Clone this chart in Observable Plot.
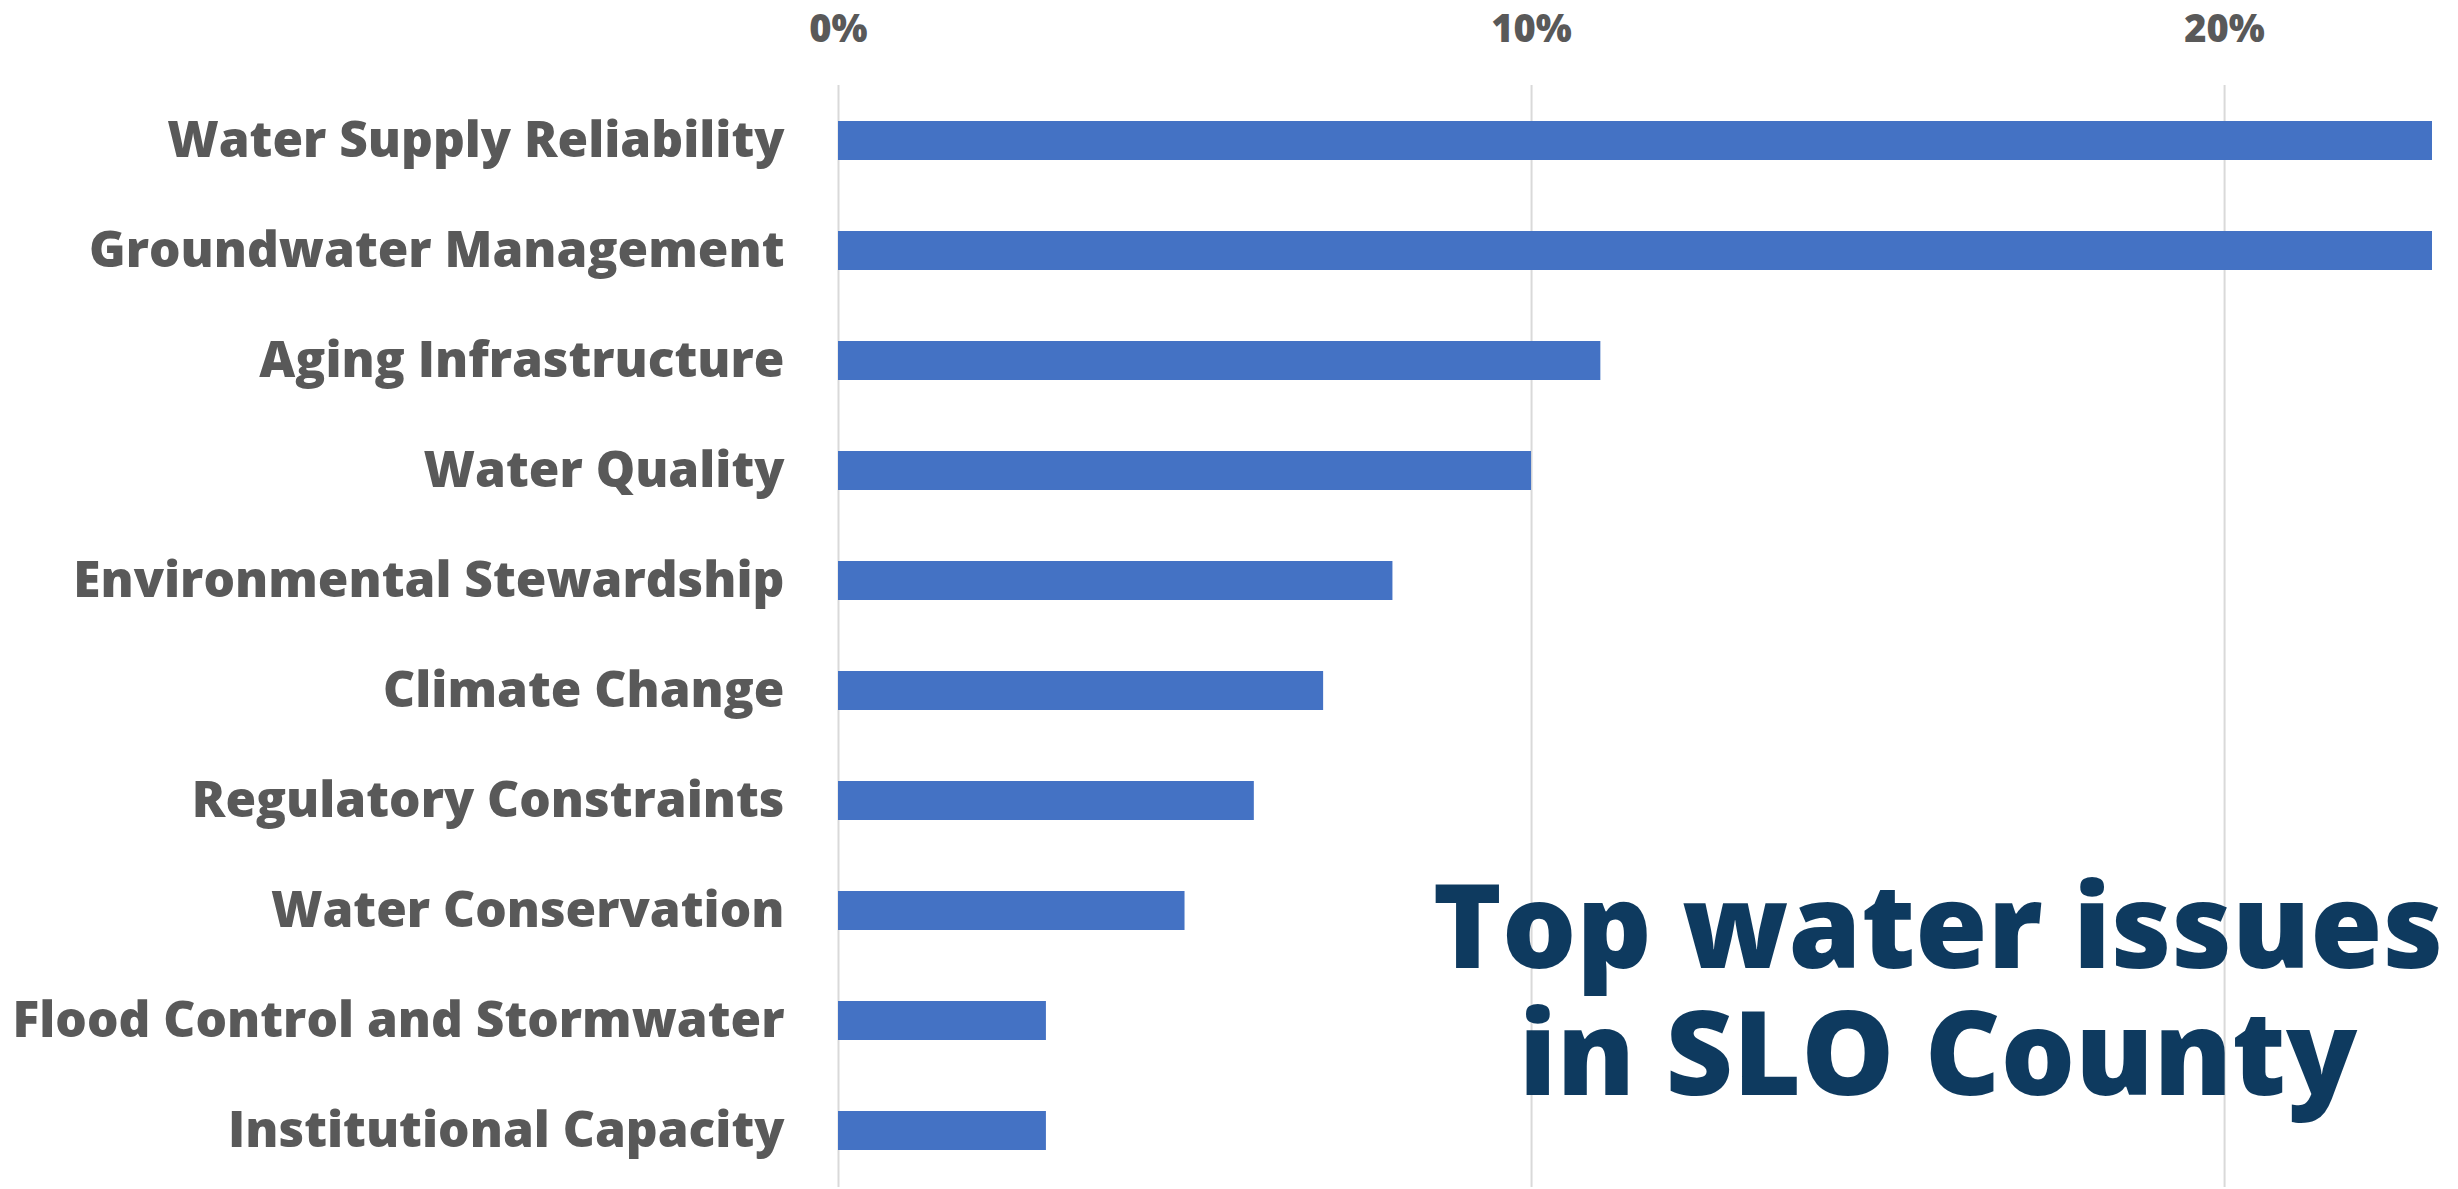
<!DOCTYPE html>
<html>
<head>
<meta charset="utf-8">
<script src="https://cdn.jsdelivr.net/npm/d3@7"></script>
<script src="https://cdn.jsdelivr.net/npm/@observablehq/plot@0.6"></script>
<style>
  html, body { margin: 0; padding: 0; background: #fff; }
  #wrap { position: relative; width: 2458px; height: 1189px; overflow: hidden; }
  #title {
    position: absolute; left: 1388px; top: 859px; width: 1100px;
    text-align: center; font-family: "Open Sans", sans-serif; font-weight: 800;
    font-size: 117px; line-height: 127px; color: #0e3a5f;
  }
</style>
</head>
<body>
<div id="wrap">
  <div id="chart"></div>
  <div id="title">Top water issues<br>in SLO County</div>
</div>
<script>
const categories = [
  "Water Supply Reliability",
  "Groundwater Management",
  "Aging Infrastructure",
  "Water Quality",
  "Environmental Stewardship",
  "Climate Change",
  "Regulatory Constraints",
  "Water Conservation",
  "Flood Control and Stormwater",
  "Institutional Capacity"
];
const values = [23, 23, 11, 10, 8, 7, 6, 5, 3, 3];
const xTicks = [0, 10, 20];

const data = categories.map((c, i) => ({category: c, value: values[i]}));

const chart = Plot.plot({
  width: 2458,
  height: 1189,
  marginLeft: 838,
  marginRight: 26,
  marginTop: 85,
  marginBottom: 2,
  style: {fontFamily: "Open Sans, sans-serif", background: "white"},
  x: {domain: [0, 23]},
  y: {domain: categories, paddingInner: 0.645, paddingOuter: 0.3225},
  marks: [
    Plot.gridX(xTicks, {stroke: "#d9d9d9", strokeWidth: 2, strokeOpacity: 1}),
    Plot.axisX({
      anchor: "top", ticks: xTicks, tickFormat: d => d + "%",
      tickSize: 0, tickPadding: 44, fontSize: 38, fontWeight: 800,
      color: "#595959", label: null
    }),
    Plot.axisY({
      tickSize: 0, tickPadding: 54, fontSize: 49.6, fontWeight: 800,
      color: "#595959", label: null
    }),
    Plot.barX(data, {x: "value", y: "category", fill: "#4472c4"})
  ]
});
document.getElementById("chart").appendChild(chart);
</script>
</body>
</html>
